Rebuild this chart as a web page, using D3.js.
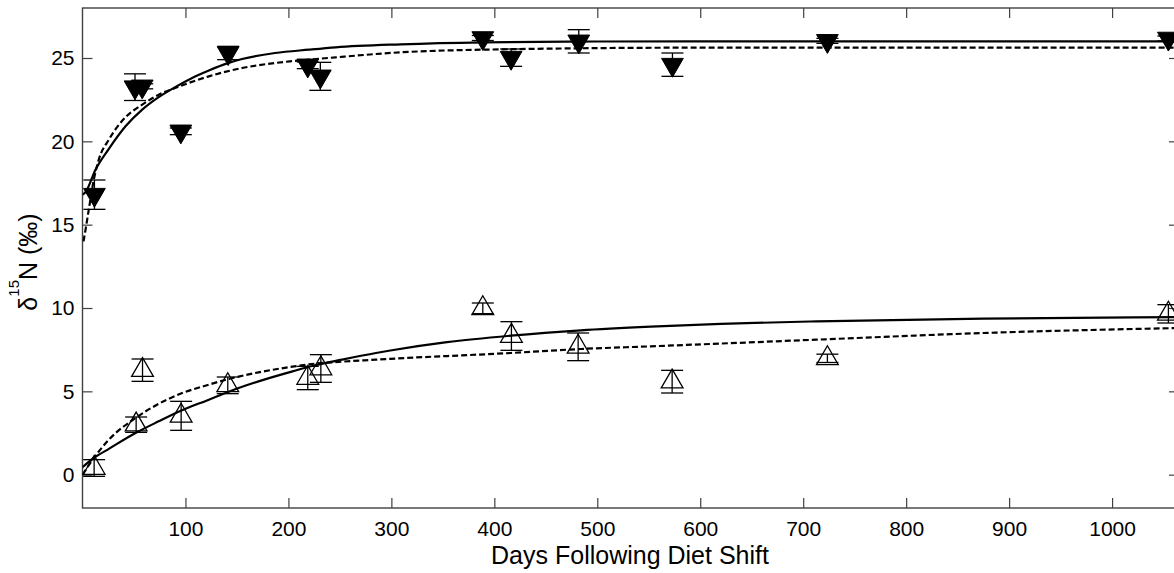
<!DOCTYPE html>
<head>
    <meta charset="utf-8">
    <script src="https://d3js.org/d3.v7.min.js"></script>
    <style>
        body { margin:0; background:#fff; }
        text { font-family: Arial, "Liberation Sans", sans-serif; fill: #000; }
        .axis line { stroke: #404040; stroke-width: 1.2; }
        .axis path { display: none; }
        .axis text { font-size: 21px; }
        .frame { fill: none; stroke: #404040; stroke-width: 1.4; }
        .fit { fill: none; stroke: #000; stroke-width: 2.2; }
        .dash { stroke-dasharray: 6,3; }
        .bar { stroke: #000; stroke-width: 1.3; fill: none; }
        .filled { fill: #000; stroke: #000; stroke-width: 1; }
        .open { fill: none; stroke: #000; stroke-width: 1.3; }
        .label { font-size: 25px; }
    </style>
</head>

<body>
<script>
    // filled (inverted) triangles
    var filledDays = [11.6, 51, 58, 95.5, 141.5, 218.8, 231, 388.8, 416.3, 482, 573, 723.5, 1054.7];
    var filledVals = [16.8, 23.25, 23.3, 20.6, 25.3, 24.56, 23.9, 26.2, 25.02, 26.0, 24.6, 26.03, 26.17];
    var filledErr  = [0.88, 0.8, 0.15, 0.2, 0.4, 0.2, 0.84, 0.15, 0.52, 0.7, 0.7, 0.15, 0.15];

    // open triangles
    var openDays = [11.3, 52.1, 58.3, 95.8, 141.1, 218.8, 231.5, 388.8, 416.6, 481.4, 572.7, 723.5, 1054.7];
    var openVals = [0.4, 3.0, 6.27, 3.53, 5.36, 5.8, 6.37, 9.98, 8.32, 7.67, 5.58, 6.98, 9.65];
    var openErr  = [0.5, 0.46, 0.67, 0.87, 0.5, 0.7, 0.83, 0.32, 0.86, 0.83, 0.68, 0.25, 0.55];

    // fitted curves: [day, value]
    var topSolid = [[0,16.8],[2.9,16.95],[12.6,18.3],[25.6,19.55],[41.8,20.9],[58,21.9],[74,22.65],
        [90,23.25],[106.5,23.8],[122.7,24.25],[140.5,24.68],[155,24.94],[187,25.3],[220,25.5],
        [246,25.64],[309,25.82],[389,25.94],[500,25.99],[700,26.0],[1065,26.0]];
    var topDashed = [[1,14.0],[3.5,14.9],[6.1,15.9],[11,17.7],[15.8,18.9],[25.6,20.1],[41.8,21.45],
        [58,22.2],[74,22.8],[90,23.2],[122.7,23.9],[155,24.4],[187,24.7],[220,24.9],[246,25.04],
        [309,25.34],[389,25.5],[600,25.62],[1065,25.62]];
    var botSolid = [[0,0.45],[11,1.0],[25.6,1.55],[51.5,2.5],[74,3.2],[95,3.82],[122.7,4.5],[142,4.98],
        [171,5.6],[204,6.2],[225,6.55],[252,6.9],[285,7.3],[299,7.45],[354,7.95],[416,8.34],[484,8.66],
        [552,8.88],[620,9.05],[713,9.2],[875,9.36],[1065,9.45]];
    var botDashed = [[0,0.0],[11,1.0],[25.6,2.1],[51.5,3.4],[74,4.25],[95,4.85],[122.7,5.4],[142,5.74],
        [171,6.14],[204,6.48],[220,6.62],[252,6.78],[285,6.9],[299,6.95],[416,7.3],[484,7.54],
        [552,7.7],[713,8.1],[875,8.5],[1065,8.8]];

    var xTicks = [100, 200, 300, 400, 500, 600, 700, 800, 900, 1000];
    var yTicks = [0, 5, 10, 15, 20, 25];

    var width = 1174, height = 573;
    var plotL = 82.5, plotR = 1179, plotT = 8, plotB = 508;

    var svg = d3.select("body").append("svg")
        .attr("width", width)
        .attr("height", height);

    var x = d3.scaleLinear().domain([0, 1065]).range([plotL, plotR]);
    var y = d3.scaleLinear().domain([-2, 28]).range([plotB, plotT]);

    // axes with inward ticks
    svg.append("g").attr("class", "axis")
        .attr("transform", "translate(0," + plotB + ")")
        .call(d3.axisBottom(x).tickValues(xTicks).tickSize(-10).tickPadding(13).tickFormat(d3.format("d")));
    svg.append("g").attr("class", "axis")
        .attr("transform", "translate(0," + plotT + ")")
        .call(d3.axisTop(x).tickValues(xTicks).tickSize(-10).tickFormat(""));
    svg.append("g").attr("class", "axis")
        .attr("transform", "translate(" + plotL + ",0)")
        .call(d3.axisLeft(y).tickValues(yTicks).tickSize(-10).tickPadding(8));
    svg.append("g").attr("class", "axis")
        .attr("transform", "translate(" + plotR + ",0)")
        .call(d3.axisRight(y).tickValues(yTicks).tickSize(-10).tickFormat(""));

    svg.append("rect").attr("class", "frame")
        .attr("x", plotL).attr("y", plotT)
        .attr("width", plotR - plotL).attr("height", plotB - plotT);

    svg.append("clipPath").attr("id", "plot")
        .append("rect").attr("x", plotL).attr("y", plotT)
        .attr("width", plotR - plotL).attr("height", plotB - plotT);

    var line = d3.line()
        .x(d => x(d[0]))
        .y(d => y(d[1]))
        .curve(d3.curveMonotoneX);

    var curves = svg.append("g").attr("clip-path", "url(#plot)");
    curves.append("path").attr("class", "fit").attr("d", line(topSolid));
    curves.append("path").attr("class", "fit dash").attr("d", line(topDashed));
    curves.append("path").attr("class", "fit").attr("d", line(botSolid));
    curves.append("path").attr("class", "fit dash").attr("d", line(botDashed));

    function errorBars(days, vals, errs) {
        var cap = 11;
        var g = svg.append("g").attr("class", "bar");
        days.forEach(function(d, i) {
            var cx = x(d), y1 = y(vals[i] + errs[i]), y2 = y(vals[i] - errs[i]);
            g.append("line").attr("x1", cx).attr("x2", cx).attr("y1", y1).attr("y2", y2);
            g.append("line").attr("x1", cx - cap).attr("x2", cx + cap).attr("y1", y1).attr("y2", y1);
            g.append("line").attr("x1", cx - cap).attr("x2", cx + cap).attr("y1", y2).attr("y2", y2);
        });
    }

    var tri = d3.symbol().type(d3.symbolTriangle).size(205);

    errorBars(openDays, openVals, openErr);
    svg.append("g").selectAll("path")
        .data(openDays)
        .enter().append("path")
        .attr("class", "open")
        .attr("d", tri)
        .attr("transform", (d, i) => "translate(" + x(d) + "," + y(openVals[i]) + ")");

    errorBars(filledDays, filledVals, filledErr);
    svg.append("g").selectAll("path")
        .data(filledDays)
        .enter().append("path")
        .attr("class", "filled")
        .attr("d", tri)
        .attr("transform", (d, i) => "translate(" + x(d) + "," + y(filledVals[i]) + ") rotate(180)");

    // axis labels
    svg.append("text").attr("class", "label")
        .attr("x", 630).attr("y", 564)
        .attr("text-anchor", "middle")
        .text("Days Following Diet Shift");

    var yl = svg.append("text").attr("class", "label")
        .attr("transform", "translate(37,262) rotate(-90)")
        .attr("text-anchor", "middle");
    yl.append("tspan").text("\u03b4");
    yl.append("tspan").attr("dy", -18).attr("font-size", "15px").text("15");
    yl.append("tspan").attr("dy", 18).text("N (\u2030)");
</script>
</body>
